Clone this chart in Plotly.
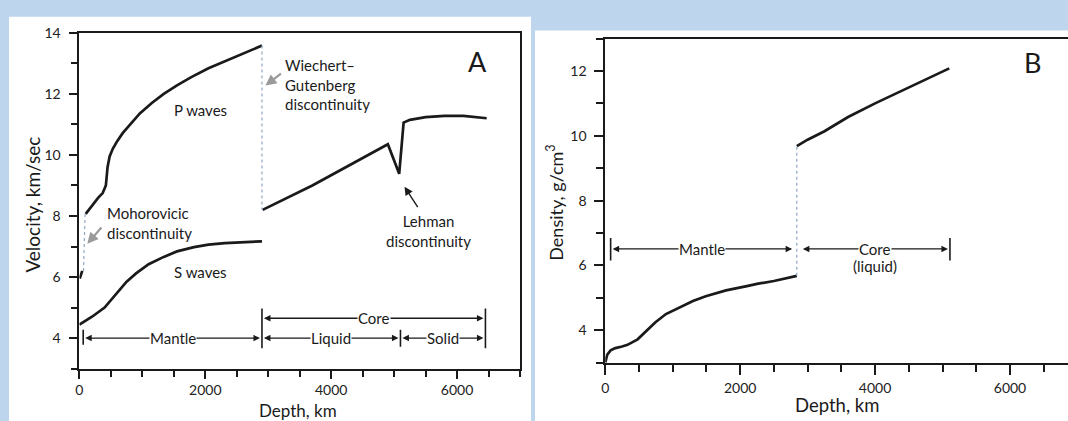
import plotly.graph_objects as go

W, H = 1068, 421

# ---------------- DATA ----------------
# Panel A: seismic velocities (km/sec) vs depth (km)
crust_p_depth = [5, 45]
crust_p_vel = [5.95, 6.2]

p_mantle_depth = [100, 200, 300, 370, 420, 447, 480, 530, 600, 690, 800, 960, 1150, 1340, 1550, 1770, 2050, 2310, 2600, 2900]
p_mantle_vel = [8.07, 8.35, 8.6, 8.75, 9.0, 9.6, 9.95, 10.2, 10.45, 10.72, 10.98, 11.36, 11.7, 12.0, 12.28, 12.54, 12.84, 13.07, 13.33, 13.58]

p_core_depth = [2910, 3300, 3700, 4100, 4500, 4900, 5080, 5150, 5250, 5500, 5800, 6100, 6470]
p_core_vel = [8.2, 8.6, 9.0, 9.45, 9.9, 10.35, 9.38, 11.06, 11.15, 11.24, 11.28, 11.28, 11.2]

s_depth = [0, 200, 400, 580, 750, 900, 1100, 1340, 1550, 1820, 2050, 2310, 2600, 2900]
s_vel = [4.44, 4.7, 5.0, 5.45, 5.85, 6.12, 6.42, 6.66, 6.84, 6.98, 7.06, 7.11, 7.15, 7.17]

# Panel B: density (g/cm3) vs depth (km)
rho_mantle_depth = [0, 30, 80, 150, 250, 330, 480, 600, 740, 900, 1090, 1300, 1490, 1790, 2100, 2250, 2500, 2840]
rho_mantle_val = [3.0, 3.25, 3.38, 3.45, 3.5, 3.55, 3.72, 3.95, 4.24, 4.5, 4.7, 4.9, 5.05, 5.23, 5.36, 5.43, 5.52, 5.68]

rho_core_depth = [2840, 3000, 3250, 3600, 4000, 4500, 4800, 5100]
rho_core_val = [9.68, 9.88, 10.14, 10.58, 11.0, 11.5, 11.8, 12.08]

# Region brackets
a_mantle = [60, 2900]
a_liquid = [2900, 5100]
a_solid = [5100, 6450]
a_core = [2900, 6450]
b_mantle = [80, 2800]
b_core = [2900, 5110]

BLUE_BG = "#bdd5ed"
INK = "#1a1a1a"
FONT = "Lato"

fig = go.Figure()

line_style = dict(color=INK, width=2.7)
for xs, ys in [(crust_p_depth, crust_p_vel), (p_mantle_depth, p_mantle_vel),
               (p_core_depth, p_core_vel), (s_depth, s_vel)]:
    fig.add_trace(go.Scatter(x=xs, y=ys, mode="lines", line=line_style,
                             xaxis="x", yaxis="y", showlegend=False, hoverinfo="skip"))
for xs, ys in [(rho_mantle_depth, rho_mantle_val), (rho_core_depth, rho_core_val)]:
    fig.add_trace(go.Scatter(x=xs, y=ys, mode="lines", line=line_style,
                             xaxis="x2", yaxis="y2", showlegend=False, hoverinfo="skip"))

shapes = [
    dict(type="rect", xref="paper", yref="paper", x0=5 / W, x1=529 / W, y0=0, y1=1 - 8 / H,
         fillcolor="white", line=dict(width=0), layer="below"),
    dict(type="rect", xref="paper", yref="paper", x0=533 / W, x1=1, y0=0, y1=1 - 22 / H,
         fillcolor="white", line=dict(width=0), layer="below"),
]

DOT = dict(color="#8fa6c4", width=1.2, dash="dot")
# discontinuity dotted lines
shapes.append(dict(type="line", xref="x", yref="y", x0=crust_p_depth[-1] + 20, x1=p_mantle_depth[0] - 10,
                   y0=crust_p_vel[-1], y1=p_mantle_vel[0], line=DOT))
shapes.append(dict(type="line", xref="x", yref="y", x0=p_mantle_depth[-1], x1=p_mantle_depth[-1],
                   y0=p_mantle_vel[-1], y1=p_core_vel[0], line=DOT))
shapes.append(dict(type="line", xref="x2", yref="y2", x0=rho_mantle_depth[-1], x1=rho_mantle_depth[-1],
                   y0=rho_mantle_val[-1], y1=rho_core_val[0], line=DOT))

BAR = dict(color=INK, width=1.6)
def vbar(xref, yref, x, y0, y1):
    shapes.append(dict(type="line", xref=xref, yref=yref, x0=x, x1=x, y0=y0, y1=y1, line=BAR))

vbar("x", "y", a_mantle[0], 3.78, 4.27)
vbar("x", "y", a_core[0], 3.67, 4.97)
vbar("x", "y", a_liquid[1], 3.72, 4.27)
vbar("x", "y", a_core[1], 3.67, 4.97)
vbar("x2", "y2", b_mantle[0], 6.15, 6.85)
vbar("x2", "y2", b_core[1], 6.15, 6.85)

annotations = []

def bracket(xref, yref, x0, x1, y, label, fs=15):
    mid = (x0 + x1) / 2
    for end in (x0, x1):
        annotations.append(dict(xref=xref, yref=yref, axref=xref, ayref=yref, x=end, y=y,
                                ax=mid, ay=y, text="", showarrow=True, arrowhead=2,
                                arrowsize=1.0, arrowwidth=1.3, arrowcolor=INK, standoff=2))
    annotations.append(dict(xref=xref, yref=yref, x=mid, y=y, text=label, showarrow=False,
                            bgcolor="white", borderpad=0, xanchor="center", yanchor="middle",
                            font=dict(family=FONT, size=fs, color=INK)))

bracket("x", "y", a_mantle[0], a_mantle[1], 4.0, "Mantle")
bracket("x", "y", a_liquid[0], a_liquid[1], 4.0, "Liquid")
bracket("x", "y", a_solid[0], a_solid[1], 4.0, "Solid")
bracket("x", "y", a_core[0], a_core[1], 4.65, "Core")
bracket("x2", "y2", b_mantle[0], b_mantle[1], 6.51, "Mantle")
bracket("x2", "y2", b_core[0], b_core[1], 6.51, "Core")
annotations.append(dict(xref="x2", yref="y2", x=(b_core[0] + b_core[1]) / 2, y=5.98, text="(liquid)",
                        showarrow=False, xanchor="center", yanchor="middle",
                        font=dict(family=FONT, size=15, color=INK)))

def label(xref, yref, x, y, text, size=15, xanchor="center", align="center"):
    annotations.append(dict(xref=xref, yref=yref, x=x, y=y, text=text, showarrow=False,
                            xanchor=xanchor, yanchor="middle", align=align,
                            font=dict(family=FONT, size=size, color=INK)))

label("x", "y", 1930, 11.47, "P waves")
label("x", "y", 1930, 6.18, "S waves")
label("x", "y", 400, 7.78, "Mohorovicic<br>discontinuity", xanchor="left", align="left")
label("x", "y", 3230, 12.32, "Wiechert–<br>Gutenberg<br>discontinuity", xanchor="left", align="left")
label("x", "y", 5540, 7.5, "Lehman<br>discontinuity")
label("x", "y", 6320, 13.07, "A", size=27)
label("x2", "y2", 6330, 12.26, "B", size=27)

def arrow(x, y, ax, ay, color, width=2.0, size=1.0):
    annotations.append(dict(xref="x", yref="y", axref="x", ayref="y", x=x, y=y, ax=ax, ay=ay,
                            text="", showarrow=True, arrowhead=2, arrowsize=size,
                            arrowwidth=width, arrowcolor=color))

arrow(125, 7.09, 370, 7.67, "#9a9a9a", 2.2)
arrow(2955, 12.27, 3225, 12.7, "#9a9a9a", 2.2)
arrow(5165, 8.96, 5390, 8.24, INK, 1.4, 1.2)

# axis titles
def title(x, y, text, size, angle=0):
    annotations.append(dict(xref="paper", yref="paper", x=x / W, y=1 - y / H, text=text,
                            textangle=angle, showarrow=False, xanchor="center", yanchor="middle",
                            font=dict(family=FONT, size=size, color=INK)))

title(29, 200, "Velocity, km/sec", 19, -90)
title(295, 410, "Depth, km", 17)
title(553, 198, "Density, g/cm<sup>3</sup>", 18, -90)
title(836, 405, "Depth, km", 18.5)

tickfont = dict(family=FONT, size=14, color="#222")
common_x = dict(tickmode="linear", tick0=0, dtick=2000, ticks="outside", ticklen=10, tickwidth=1.6,
                tickcolor=INK, showline=True, linecolor=INK, linewidth=1.8, showgrid=False,
                zeroline=False, tickfont=tickfont,
                minor=dict(dtick=500, tick0=0, ticks="outside", ticklen=7, tickwidth=1.6, tickcolor=INK,
                           showgrid=False))
common_y = dict(tickmode="linear", tick0=0, dtick=2, ticks="outside", ticklen=9, tickwidth=1.6,
                tickcolor=INK, showline=True, linecolor=INK, linewidth=1.8, showgrid=False,
                zeroline=False, tickfont=tickfont, ticklabelstandoff=5,
                minor=dict(dtick=1, tick0=0, ticks="outside", ticklen=7, tickwidth=1.6, tickcolor=INK,
                           showgrid=False))

fig.update_layout(
    width=W, height=H,
    margin=dict(l=0, r=0, t=0, b=0),
    paper_bgcolor=BLUE_BG,
    plot_bgcolor="white",
    showlegend=False,
    xaxis=dict(common_x, domain=[75.7 / W, 518 / W], range=[0, 7000], anchor="y", mirror=True,
               ticklabelstandoff=0, ticklen=8,
               minor=dict(dtick=500, tick0=0, ticks="outside", ticklen=6, tickwidth=1.6, tickcolor=INK,
                          showgrid=False)),
    yaxis=dict(common_y, domain=[1 - 367.5 / H, 1 - 24.3 / H], range=[3, 14], anchor="x", mirror=True),
    xaxis2=dict(common_x, domain=[603.5 / W, 1.0], range=[0, 6860], anchor="y2", mirror=True,
                ticklabelstandoff=2),
    yaxis2=dict(common_y, domain=[1 - 361.4 / H, 1 - 30.2 / H], range=[3, 13], anchor="x2", mirror=False),
    shapes=shapes,
    annotations=annotations,
)

fig.write_html(
    "out.html",
    config={"displayModeBar": False},
    post_script="document.body.style.margin='0';document.body.style.padding='0';"
                "document.documentElement.style.overflow='hidden';document.body.style.overflow='hidden';",
)
